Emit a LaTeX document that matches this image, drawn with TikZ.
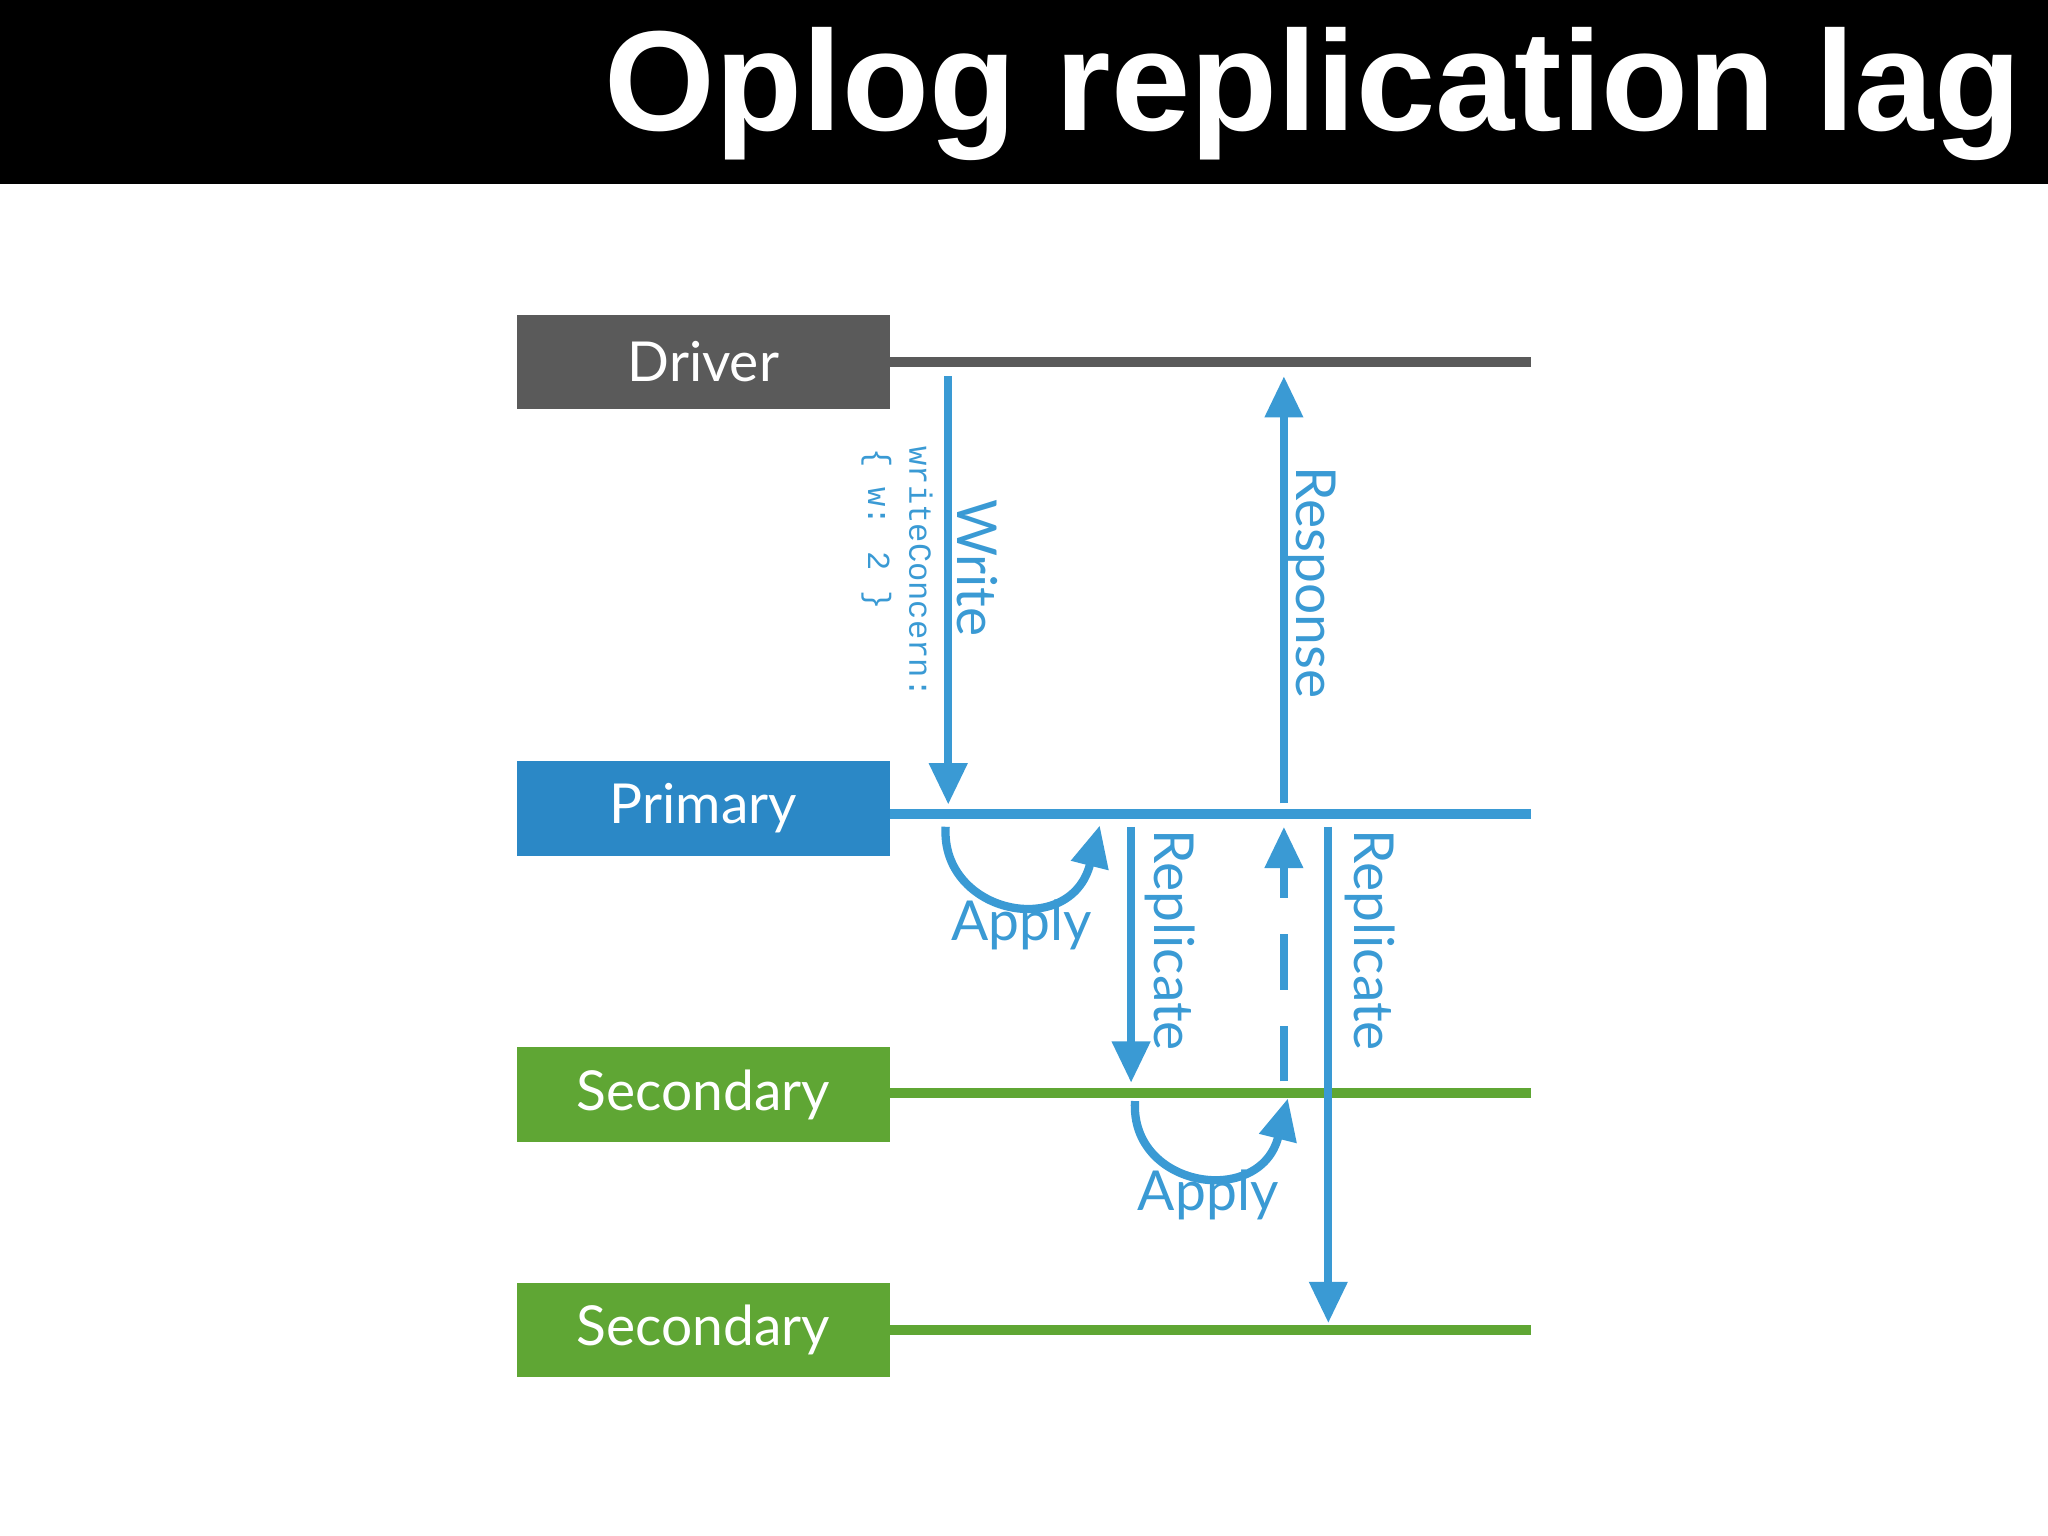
\documentclass[tikz,border=0pt]{standalone}
\usepackage{fontspec}
\setmainfont{Lato}
\newfontfamily\titlefont{Liberation Sans}
\newfontfamily\monofont{Liberation Mono}
\usetikzlibrary{arrows.meta}
\definecolor{drv}{HTML}{5A5A5A}
\definecolor{pri}{HTML}{2B88C6}
\definecolor{sec}{HTML}{5FA634}
\definecolor{arr}{HTML}{3A9AD4}
\begin{document}
\begin{tikzpicture}[x=0.01cm,y=-0.01cm,
  box/.style={draw=none,minimum width=2.85cm,minimum height=0.72cm,text=white,font=\fontsize{12}{14}\selectfont,inner sep=0pt},
  line/.style={line width=2.2pt},
  ar/.style={arr,line width=1.8pt,-{Triangle[length=9pt,width=8pt]}},
  lab/.style={text=arr,rotate=-90,font=\fontsize{12}{14}\selectfont,inner sep=0pt}]
\useasboundingbox (0,0) rectangle (1568,1176);
\fill[black] (0,0) rectangle (1568,141);
\node[anchor=base east,text=white,font=\titlefont\bfseries\fontsize{31}{36}\selectfont,inner sep=0pt] (title) at (1548,100) {Oplog replication lag};
\node[box,fill=drv] (drv) at (538.5,277) {Driver};
\node[box,fill=pri] (pri) at (538.5,619) {Primary};
\node[box,fill=sec] (s1) at (538.5,838) {Secondary};
\node[box,fill=sec] (s2) at (538.5,1018) {Secondary};
\coordinate (dE) at (1172,277); \coordinate (pE) at (1172,623);
\coordinate (s1E) at (1172,837); \coordinate (s2E) at (1172,1018);
\draw[line,drv] (drv.east|-dE) -- (dE);
\draw[line,arr] (pri.east|-pE) -- (pE);
\draw[line,sec] (s1.east|-s1E) -- (s1E);
\draw[line,sec] (s2.east|-s2E) -- (s2E);
% write
\coordinate (w1) at (726,288); \coordinate (w2) at (726,616);
\draw[ar] (w1) -- (w2);
\node[lab] (wl) at (748,435) {Write};
\node[lab,font=\monofont\fontsize{7}{8}\selectfont] (wc) at (705,438) {writeConcern:};
\node[lab,font=\monofont\fontsize{7}{8}\selectfont] (wv) at (671,405) {\{ w: 2 \}};
% response
\coordinate (r1) at (983,615); \coordinate (r2) at (983,288);
\draw[ar] (r1) -- (r2);
\node[lab] (rl) at (1004,446) {Response};
% apply 1
\coordinate (a1) at (724,633); \coordinate (a2) at (842,632);
\draw[ar] (a1) .. controls (720,700) and (820,720) .. (a2);
\node[text=arr,font=\fontsize{12}{14}\selectfont] (al1) at (782,708) {Apply};
% replicate 1
\coordinate (p1) at (866,633); \coordinate (p2) at (866,829);
\draw[ar] (p1) -- (p2);
\node[lab] (pl1) at (896,720) {Replicate};
% dashed
\coordinate (d1) at (983,828); \coordinate (d2) at (983,633);
\draw[ar,dashed,dash pattern=on 12pt off 8pt] (d1) -- (d2);
% apply 2
\coordinate (b1) at (869,843); \coordinate (b2) at (986,841);
\draw[ar] (b1) .. controls (865,910) and (965,925) .. (b2);
\node[text=arr,font=\fontsize{12}{14}\selectfont] (al2) at (925,915) {Apply};
% replicate 2
\coordinate (q1) at (1017,633); \coordinate (q2) at (1017,1013);
\draw[ar] (q1) -- (q2);
\node[lab] (pl2) at (1049,720) {Replicate};
\end{tikzpicture}
\end{document}
